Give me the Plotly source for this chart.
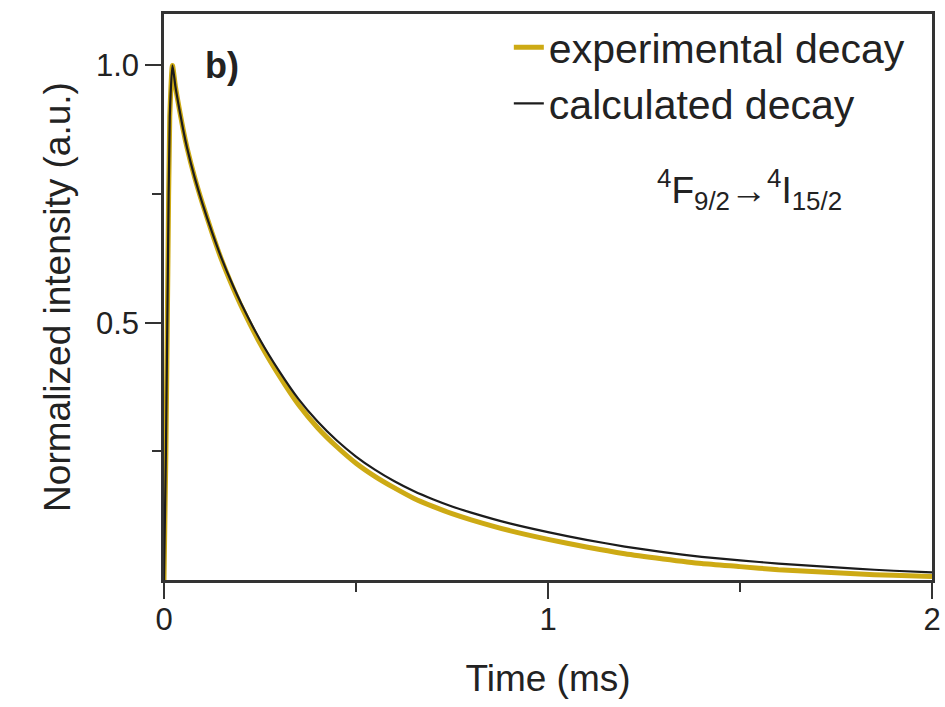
import plotly.graph_objects as go

# ---- data ----
time_ms = [0.0, 0.005, 0.01, 0.015, 0.022, 0.03, 0.04, 0.05, 0.06, 0.08, 0.1, 0.125, 0.15,
           0.175, 0.2, 0.25, 0.3, 0.35, 0.4, 0.45, 0.5, 0.55, 0.6, 0.65, 0.7, 0.75, 0.8,
           0.9, 1.0, 1.1, 1.2, 1.3, 1.4, 1.5, 1.6, 1.7, 1.8, 1.9, 2.0]

calculated = [0.0, 0.25, 0.6, 0.9, 1.0, 0.958, 0.915, 0.875, 0.840, 0.782, 0.732, 0.676, 0.625,
              0.580, 0.539, 0.467, 0.406, 0.352, 0.308, 0.271, 0.240, 0.214, 0.192, 0.173, 0.157, 0.143, 0.131,
              0.110, 0.093, 0.078, 0.065, 0.054, 0.045, 0.038, 0.032, 0.027, 0.022, 0.018, 0.015]

experimental = [0.0, 0.25, 0.6, 0.9, 1.0, 0.958, 0.915, 0.875, 0.840, 0.782, 0.732, 0.675, 0.622,
                0.576, 0.534, 0.460, 0.397, 0.341, 0.296, 0.259, 0.227, 0.201, 0.179, 0.159, 0.143, 0.129, 0.117,
                0.096, 0.079, 0.064, 0.051, 0.041, 0.032, 0.026, 0.020, 0.016, 0.012, 0.009, 0.007]

x_ticks = [0, 1, 2]
x_minor = [0.5, 1.5]
y_ticks = [0.5, 1.0]
y_ticktext = ["0.5", "1.0"]
y_minor = [0.25, 0.75]

FONT = "Liberation Sans, Arial, sans-serif"
TXT = "#222222"
AX = "#333333"

fig = go.Figure()
fig.add_trace(go.Scatter(x=time_ms, y=experimental, mode="lines", name="experimental decay",
                         line=dict(color="#CDAA14", width=5, shape="spline", smoothing=0.6),
                         legendgroup="a"))
fig.add_trace(go.Scatter(x=time_ms, y=calculated, mode="lines", name="calculated decay",
                         line=dict(color="#1c1c1c", width=2.2, shape="spline", smoothing=0.6),
                         legendgroup="b"))

axis_common = dict(showline=True, linecolor=AX, linewidth=2.5, mirror=True,
                   ticks="outside", ticklen=16, tickwidth=2, tickcolor=AX,
                   showgrid=False, zeroline=False, automargin=False,
                   tickfont=dict(family=FONT, size=31, color=TXT))

fig.update_xaxes(range=[0, 2], tickvals=x_ticks,
                 minor=dict(tickvals=x_minor, ticks="outside", ticklen=9, tickwidth=2, tickcolor=AX),
                 ticklabelstandoff=-6,
                 title=dict(text="Time (ms)", font=dict(family=FONT, size=37, color=TXT), standoff=30),
                 **axis_common)
fig.update_yaxes(range=[0, 1.1], tickvals=y_ticks, ticktext=y_ticktext,
                 minor=dict(tickvals=y_minor, ticks="outside", ticklen=9, tickwidth=2, tickcolor=AX),
                 ticklabelstandoff=0,
                 title=dict(text="Normalized intensity (a.u.)", font=dict(family=FONT, size=37, color=TXT), standoff=14),
                 **axis_common)

fig.add_annotation(x=0.151, y=1.0, xref="x", yref="y", text="<b>b)</b>", showarrow=False,
                   xanchor="center", yanchor="middle", font=dict(family=FONT, size=36, color=TXT))
fig.add_annotation(x=1.526, y=0.758, xref="x", yref="y",
                   text="<sup>4</sup>F<sub>9/2</sub>\u2192<sup>4</sup>I<sub>15/2</sub>",
                   showarrow=False, xanchor="center", yanchor="middle",
                   font=dict(family=FONT, size=37, color=TXT))

fig.update_layout(
    width=945, height=707,
    margin=dict(l=164, r=13, t=14, b=127),
    paper_bgcolor="white", plot_bgcolor="white",
    font=dict(family=FONT, color=TXT),
    showlegend=True,
    legend=dict(x=0.449, y=1.0, xanchor="left", yanchor="top",
                bgcolor="rgba(0,0,0,0)", borderwidth=0,
                font=dict(family=FONT, size=41, color=TXT),
                traceorder="grouped", tracegroupgap=0, itemwidth=30),
)

fig.write_html("out.html")
